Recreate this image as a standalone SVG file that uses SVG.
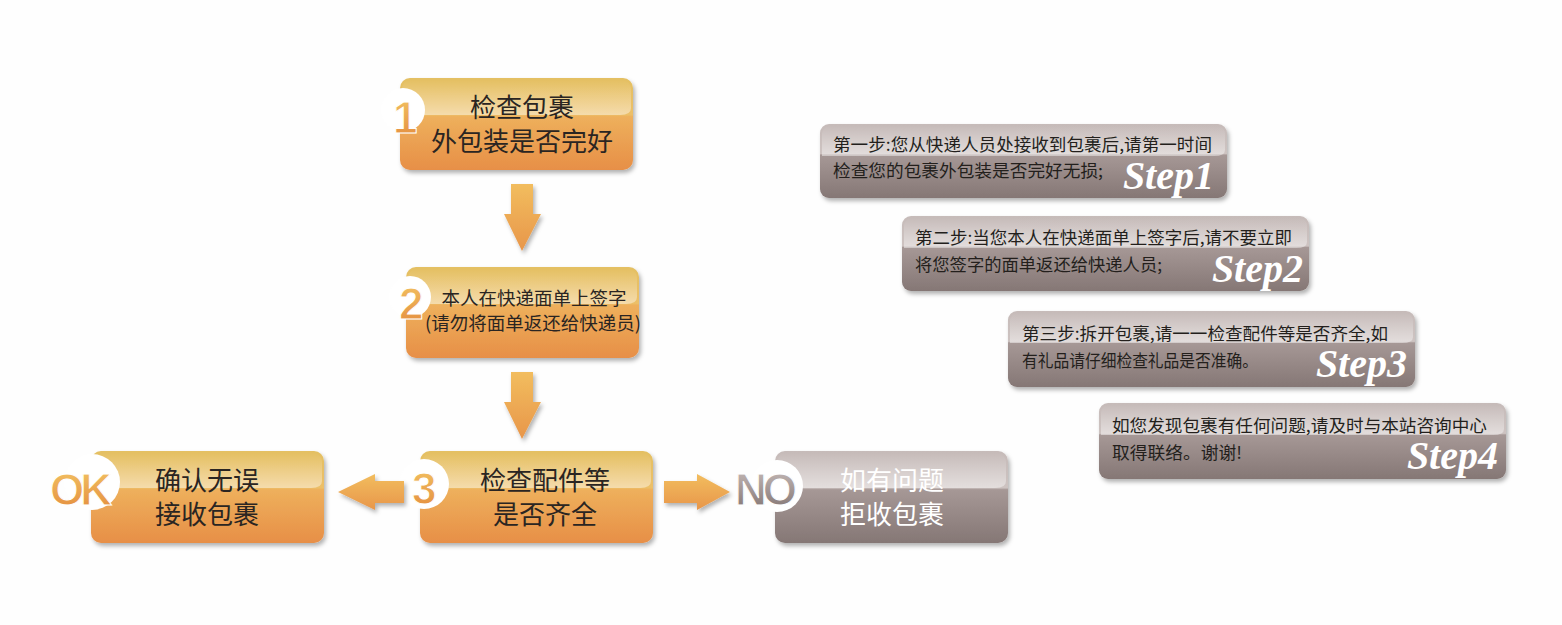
<svg xmlns="http://www.w3.org/2000/svg" width="1562" height="625" viewBox="0 0 1562 625">
<style>
.main{font-family:"Noto Sans CJK SC","Noto Sans",sans-serif;font-size:26px;fill:#2a2522;text-anchor:middle}
.mainw{font-family:"Noto Sans CJK SC","Noto Sans",sans-serif;font-size:26px;fill:#ffffff;text-anchor:middle}
.small{font-family:"Noto Sans CJK SC","Noto Sans",sans-serif;font-size:18.5px;fill:#2a2522;text-anchor:middle}
.step{font-family:"Noto Sans CJK SC","Noto Sans",sans-serif;font-size:17px;fill:#231f1c}
.lbl{font-family:"Liberation Serif",serif;font-style:italic;font-weight:bold;font-size:40px;fill:#ffffff;text-anchor:end}
.badge{font-family:"Liberation Sans",Arial,sans-serif;font-weight:bold;font-size:44px;fill:url(#gDig);stroke:#ffffff;stroke-width:1}
.badgeg{font-family:"Liberation Sans",Arial,sans-serif;font-weight:bold;font-size:44px;fill:url(#gDigG);stroke:#ffffff;stroke-width:1}
.arrow{fill:url(#gArrow);filter:url(#sh)}
</style>
<defs>
<linearGradient id="gOr" x1="0" y1="0" x2="0" y2="1">
<stop offset="0" stop-color="#e4c063"/>
<stop offset="0.4" stop-color="#ecbf67"/>
<stop offset="0.42" stop-color="#eeb05c"/>
<stop offset="1" stop-color="#e78f47"/>
</linearGradient>
<linearGradient id="gGr" x1="0" y1="0" x2="0" y2="1">
<stop offset="0" stop-color="#c6bbb9"/>
<stop offset="0.4" stop-color="#cdc3c1"/>
<stop offset="0.42" stop-color="#a69896"/>
<stop offset="1" stop-color="#857775"/>
</linearGradient>
<linearGradient id="gGloss" x1="0" y1="0" x2="0" y2="1">
<stop offset="0" stop-color="#ffffff" stop-opacity="0"/>
<stop offset="1" stop-color="#ffffff" stop-opacity="0.45"/>
</linearGradient>
<linearGradient id="gDig" x1="0" y1="0" x2="0" y2="1">
<stop offset="0" stop-color="#f3c565"/>
<stop offset="1" stop-color="#e38a3c"/>
</linearGradient>
<linearGradient id="gDigG" x1="0" y1="0" x2="0" y2="1">
<stop offset="0" stop-color="#c9bebc"/>
<stop offset="1" stop-color="#7e706e"/>
</linearGradient>
<linearGradient id="gArrow" x1="0" y1="0" x2="0" y2="1">
<stop offset="0" stop-color="#f2bd5e"/>
<stop offset="1" stop-color="#e8964a"/>
</linearGradient>
<filter id="sh" x="-10%" y="-10%" width="130%" height="140%">
<feDropShadow dx="2" dy="3" stdDeviation="2" flood-color="#000000" flood-opacity="0.3"/>
</filter>
</defs>
<rect width="1562" height="625" fill="#fefefe"/>

<g id="node-1">
<rect x="400" y="78" width="233" height="92" rx="10" fill="url(#gOr)" filter="url(#sh)"/>
<path d="M410 80 H623 A9 9 0 0 1 631 89 V108 Q631 115 620 115 H402 V89 A9 9 0 0 1 410 80 Z" fill="url(#gGloss)"/>
<circle cx="403" cy="110" r="22" fill="#ffffff"/>
<text class="badge" x="393" y="133">1</text>
<text class="main" x="522" y="117">检查包裹</text>
<text class="main" x="522" y="151">外包装是否完好</text>
</g>

<g id="node-2">
<rect x="406" y="267" width="233" height="91" rx="10" fill="url(#gOr)" filter="url(#sh)"/>
<path d="M416 269 H629 A9 9 0 0 1 637 278 V297 Q637 304 626 304 H408 V278 A9 9 0 0 1 416 269 Z" fill="url(#gGloss)"/>
<circle cx="410" cy="297" r="21" fill="#ffffff"/>
<text class="badge" x="399" y="319">2</text>
<text class="small" x="534" y="305">本人在快递面单上签字</text>
<text class="small" x="533" y="330">(请勿将面单返还给快递员)</text>
</g>

<g id="node-3">
<rect x="420" y="451" width="233" height="92" rx="10" fill="url(#gOr)" filter="url(#sh)"/>
<path d="M430 453 H643 A9 9 0 0 1 651 462 V481 Q651 488 640 488 H422 V462 A9 9 0 0 1 430 453 Z" fill="url(#gGloss)"/>
<circle cx="424" cy="484" r="25" fill="#ffffff"/>
<text class="badge" x="412" y="504">3</text>
<text class="main" x="545" y="490">检查配件等</text>
<text class="main" x="545" y="524">是否齐全</text>
</g>

<g id="node-ok">
<rect x="91" y="451" width="233" height="92" rx="10" fill="url(#gOr)" filter="url(#sh)"/>
<path d="M101 453 H314 A9 9 0 0 1 322 462 V481 Q322 488 311 488 H93 V462 A9 9 0 0 1 101 453 Z" fill="url(#gGloss)"/>
<circle cx="92" cy="482" r="28" fill="#ffffff"/>
<text class="badge" x="50" y="505" letter-spacing="-4">OK</text>
<text class="main" x="207" y="490">确认无误</text>
<text class="main" x="207" y="524">接收包裹</text>
</g>

<g id="node-no">
<rect x="775" y="451" width="233" height="92" rx="10" fill="url(#gGr)" filter="url(#sh)"/>
<path d="M785 453 H998 A9 9 0 0 1 1006 462 V481 Q1006 488 995 488 H777 V462 A9 9 0 0 1 785 453 Z" fill="url(#gGloss)"/>
<circle cx="777" cy="486" r="26" fill="#ffffff"/>
<text class="badgeg" x="735" y="505" letter-spacing="-4">NO</text>
<text class="mainw" x="892" y="490">如有问题</text>
<text class="mainw" x="892" y="524">拒收包裹</text>
</g>

<g id="step-1">
<rect x="820" y="124" width="407" height="74" rx="9" fill="url(#gGr)" filter="url(#sh)"/>
<path d="M829 126 H1216 A8 8 0 0 1 1225 134 V150 Q1225 156 1214 156 H822 V134 A8 8 0 0 1 829 126 Z" fill="url(#gGloss)"/>
<text class="step" x="833" y="151" textLength="379" lengthAdjust="spacingAndGlyphs">第一步:您从快递人员处接收到包裹后,请第一时间</text>
<text class="step" x="833" y="177" textLength="270" lengthAdjust="spacingAndGlyphs">检查您的包裹外包装是否完好无损;</text>
<text class="lbl" x="1214" y="189">Step1</text>
</g>

<g id="step-2">
<rect x="902" y="216" width="407" height="75" rx="9" fill="url(#gGr)" filter="url(#sh)"/>
<path d="M911 218 H1298 A8 8 0 0 1 1307 226 V242 Q1307 248 1296 248 H904 V226 A8 8 0 0 1 911 218 Z" fill="url(#gGloss)"/>
<text class="step" x="915" y="244" textLength="377" lengthAdjust="spacingAndGlyphs">第二步:当您本人在快递面单上签字后,请不要立即</text>
<text class="step" x="915" y="271" textLength="247" lengthAdjust="spacingAndGlyphs">将您签字的面单返还给快递人员;</text>
<text class="lbl" x="1303" y="282">Step2</text>
</g>

<g id="step-3">
<rect x="1008" y="311" width="407" height="76" rx="9" fill="url(#gGr)" filter="url(#sh)"/>
<path d="M1017 313 H1404 A8 8 0 0 1 1413 321 V337 Q1413 343 1402 343 H1010 V321 A8 8 0 0 1 1017 313 Z" fill="url(#gGloss)"/>
<text class="step" x="1022" y="340" textLength="366" lengthAdjust="spacingAndGlyphs">第三步:拆开包裹,请一一检查配件等是否齐全,如</text>
<text class="step" x="1022" y="367" textLength="236" lengthAdjust="spacingAndGlyphs">有礼品请仔细检查礼品是否准确。</text>
<text class="lbl" x="1407" y="377">Step3</text>
</g>

<g id="step-4">
<rect x="1099" y="403" width="407" height="76" rx="9" fill="url(#gGr)" filter="url(#sh)"/>
<path d="M1108 405 H1495 A8 8 0 0 1 1504 413 V429 Q1504 435 1493 435 H1101 V413 A8 8 0 0 1 1108 405 Z" fill="url(#gGloss)"/>
<text class="step" x="1112" y="432" textLength="375" lengthAdjust="spacingAndGlyphs">如您发现包裹有任何问题,请及时与本站咨询中心</text>
<text class="step" x="1112" y="459" textLength="130" lengthAdjust="spacingAndGlyphs">取得联络。谢谢!</text>
<text class="lbl" x="1498" y="469">Step4</text>
</g>

<g id="connectors">
<path class="arrow" d="M511 184 H533 V214 H541 L522 251 L504 214 H511 Z"/>
<path class="arrow" d="M511 372 H533 V402 H541 L522 439 L504 402 H511 Z"/>
<path class="arrow" d="M404 481 V503 H375 V510 L338 492 L375 474 V481 Z"/>
<path class="arrow" d="M664 481 V503 H697 V510 L730 492 L697 474 V481 Z"/>
</g>
</svg>
